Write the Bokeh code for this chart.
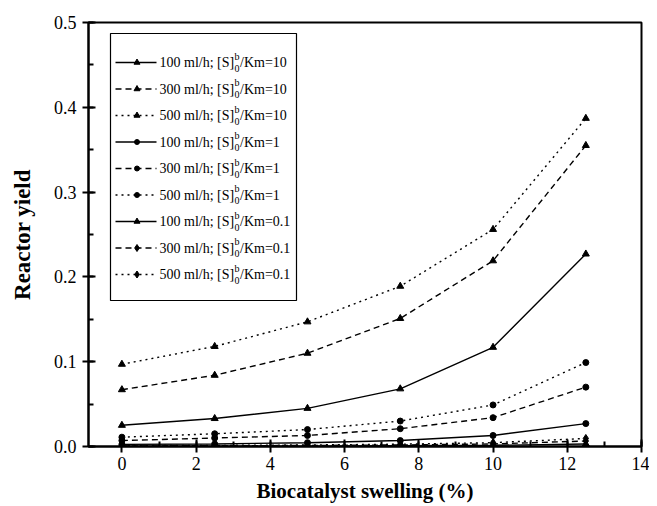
from bokeh.plotting import figure
from bokeh.models import SingleIntervalTicker, NumeralTickFormatter, Range1d, BoxAnnotation
from bokeh.core.properties import value
from bokeh.embed import file_html
from bokeh.resources import INLINE

# ---------------- data ----------------
swelling = [0, 2.5, 5, 7.5, 10, 12.5]

km10_100 = [0.025, 0.033, 0.045, 0.068, 0.117, 0.227]
km10_300 = [0.067, 0.084, 0.110, 0.151, 0.219, 0.355]
km10_500 = [0.097, 0.118, 0.147, 0.189, 0.256, 0.387]

km1_100 = [0.0025, 0.003, 0.0045, 0.007, 0.013, 0.027]
km1_300 = [0.007, 0.010, 0.013, 0.021, 0.034, 0.070]
km1_500 = [0.011, 0.015, 0.020, 0.030, 0.049, 0.099]

km01_100 = [0.0003, 0.0004, 0.0005, 0.0008, 0.0014, 0.003]
km01_300 = [0.0007, 0.0009, 0.0012, 0.0018, 0.003, 0.0065]
km01_500 = [0.001, 0.0013, 0.0018, 0.0027, 0.0045, 0.0095]

flows = ["100 ml/h", "300 ml/h", "500 ml/h"]
ratios = ["10", "1", "0.1"]

x_label = "Biocatalyst swelling (%)"
y_label = "Reactor yield"

# ---------------- styles ----------------
SERIF = "'Liberation Serif', 'Times New Roman', serif"
dashes = {"100 ml/h": "solid", "300 ml/h": "6 4", "500 ml/h": "2 4"}
markers = {"10": ["triangle", "triangle", "triangle"],
           "1": ["circle", "circle", "circle"],
           "0.1": ["triangle", "diamond", "diamond"]}
msize = {"triangle": 7, "circle": 6, "diamond": 8}

series = [
    ("10", km10_100, km10_300, km10_500),
    ("1", km1_100, km1_300, km1_500),
    ("0.1", km01_100, km01_300, km01_500),
]

X0, X1 = -0.9, 14.0
Y0, Y1 = 0.0, 0.5
FW, FH = 553, 424
FL, FT = 88, 22  # frame left/top on page

p = figure(width=641, height=490, output_backend="svg", toolbar_location=None,
           x_range=Range1d(X0, X1), y_range=Range1d(Y0, Y1),
           frame_width=FW, frame_height=FH,
           min_border_left=FL, min_border_top=FT, min_border_right=8, min_border_bottom=30)

p.grid.visible = False
p.outline_line_color = "black"
p.outline_line_width = 2
p.background_fill_color = "white"
p.border_fill_color = "white"

for ax in (p.xaxis[0], p.yaxis[0]):
    ax.axis_line_width = 2
    ax.major_tick_line_width = 2
    ax.minor_tick_line_width = 2
    ax.major_tick_in = 7
    ax.major_tick_out = 6
    ax.minor_tick_in = 5
    ax.minor_tick_out = 0
    ax.major_label_text_font = SERIF
    ax.major_label_text_font_size = "18px"
    ax.major_label_text_color = "black"
    ax.axis_label_text_font = SERIF
    ax.axis_label_text_font_style = "bold"
    ax.axis_label_text_color = "black"

p.xaxis.axis_label_text_font_size = "21px"
p.yaxis.axis_label_text_font_size = "23px"
p.xaxis.ticker = SingleIntervalTicker(interval=2, num_minor_ticks=2)
p.yaxis.ticker = SingleIntervalTicker(interval=0.1, num_minor_ticks=2)
p.yaxis.formatter = NumeralTickFormatter(format="0.0")
p.xaxis.axis_label = x_label
p.yaxis.axis_label = y_label
p.xaxis.major_label_standoff = 4
p.yaxis.major_label_standoff = 6
p.xaxis.axis_label_standoff = 6
p.yaxis.axis_label_standoff = 16

# ---------------- curves ----------------
for ratio, a, b, c in series:
    for flow, ys, mk in zip(flows, (a, b, c), markers[ratio]):
        p.line(swelling, ys, line_color="black", line_width=1.4, line_dash=dashes[flow])
        p.scatter(swelling, ys, marker=mk, size=msize[mk], fill_color="black", line_color="black")

# ---------------- legend (drawn by hand for super/subscripts) ----------------
def dx(px):  # page pixel -> data x
    return X0 + (px - FL) / FW * (X1 - X0)

def dy(py):  # page pixel -> data y
    return Y0 + (FT + FH - py) / FH * (Y1 - Y0)

p.add_layout(BoxAnnotation(left=dx(110), right=dx(296), top=dy(33), bottom=dy(300),
                           fill_color="white", fill_alpha=1, line_color="black",
                           line_alpha=1, line_width=1.2, level="underlay"))

row = 0
for ratio, a, b, c in series:
    for flow, mk in zip(flows, markers[ratio]):
        ypx = 62 + row * 26.5
        yy = dy(ypx)
        p.line([dx(115), dx(156)], [yy, yy], line_color="black", line_width=1.4, line_dash=dashes[flow])
        p.scatter([dx(136.5)], [yy], marker=mk, size=msize[mk] - 1, fill_color="black", line_color="black")
        tx = dx(159)
        p.text([tx], [yy], text=[flow + "; [S]"], text_font=value(SERIF), text_font_size="14px",
               text_baseline="middle", text_align="left", text_color="black")
        p.text([tx], [yy], text=["b"], x_offset=75, y_offset=-6.5, text_font=value(SERIF),
               text_font_size="10px", text_baseline="middle", text_align="left", text_color="black")
        p.text([tx], [yy], text=["0"], x_offset=75, y_offset=5.5, text_font=value(SERIF),
               text_font_size="10px", text_baseline="middle", text_align="left", text_color="black")
        p.text([tx], [yy], text=["/Km=" + ratio], x_offset=80.5, text_font=value(SERIF),
               text_font_size="14px", text_baseline="middle", text_align="left", text_color="black")
        row += 1

open("out.html", "w").write(file_html(p, INLINE))
